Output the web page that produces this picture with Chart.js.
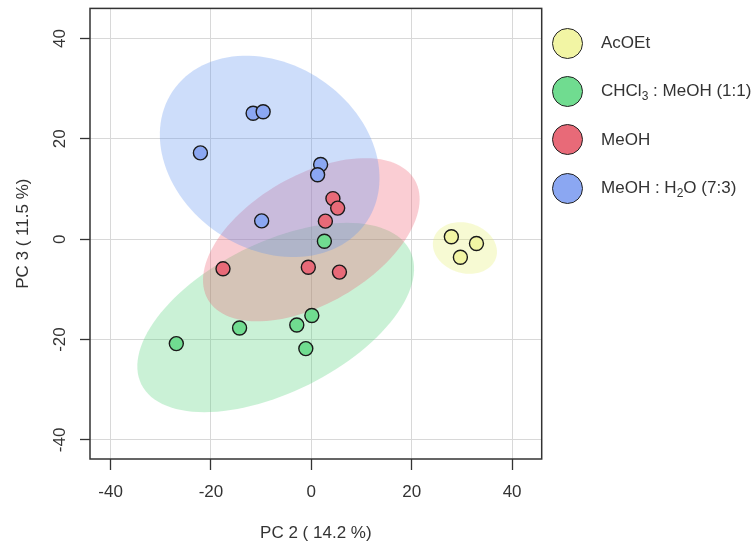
<!DOCTYPE html>
<html>
<head>
<meta charset="utf-8">
<script src="https://cdn.jsdelivr.net/npm/chart.js@4"></script>
<style>
  html, body { margin: 0; padding: 0; background: #fff; }
  #wrap { position: relative; width: 754px; height: 544px; }
  #legend { position: absolute; left: 552px; top: 19px; font-family: "Liberation Sans", Arial, sans-serif; font-size: 17px; color: #333; white-space: nowrap; }
  .item { height: 48.3px; display: flex; align-items: center; }
  .dot { width: 29px; height: 29px; border-radius: 50%; border: 1.5px solid #222; margin-right: 18px; flex: none; }
  .item sub { font-size: 12px; vertical-align: -4px; line-height: 0; }
</style>
</head>
<body>
<div id="wrap">
  <canvas id="pca" width="754" height="544"></canvas>
  <div id="legend"></div>
</div>
<script>
// groups
const groups = ["AcOEt", "CHCl₃ : MeOH (1:1)", "MeOH", "MeOH : H₂O (7:3)"];
const pointColors = ["#f2f5a4", "#70dc90", "#e86a78", "#8ba7f2"];
const fillColors = ["rgba(228,240,110,0.3)", "rgba(80,210,120,0.3)", "rgba(240,90,110,0.3)", "rgba(100,150,240,0.32)"];

// scores, PC2 / PC3
const acoetX = [27.9, 32.9, 29.7];
const acoetY = [0.5, -0.85, -3.6];
const chclX = [2.6, 0.1, -2.9, -14.3, -26.9, -1.1];
const chclY = [-0.4, -15.2, -17.1, -17.7, -20.8, -21.8];
const meohX = [4.3, 5.25, 2.8, -17.6, -0.6, 5.6];
const meohY = [8.1, 6.2, 3.6, -5.9, -5.6, -6.55];
const waterX = [-11.6, -9.6, -22.1, 1.85, 1.25, -9.9];
const waterY = [25.1, 25.4, 17.2, 14.9, 12.85, 3.65];

// confidence ellipses (data units), same order as groups
const ellCx = [30.6, -7.1, 0.0, -8.3];
const ellCy = [-1.75, -15.6, -0.1, 16.5];
const ellRx = [6.5, 29.9, 23.8, 23.3];
const ellRy = [5.0, 14.9, 12.8, 18.4];
const ellAngle = [-17, 26.5, 30, -34];

const xTicks = [-40, -20, 0, 20, 40];
const yTicks = [-40, -20, 0, 20, 40];

function pts(xs, ys) {
  return xs.map((x, i) => ({ x: x, y: ys[i] }));
}
const series = [pts(acoetX, acoetY), pts(chclX, chclY), pts(meohX, meohY), pts(waterX, waterY)];

const ellipsePlugin = {
  id: "ellipses",
  beforeDatasetsDraw(chart) {
    const { ctx, chartArea, scales } = chart;
    ctx.save();
    ctx.beginPath();
    ctx.rect(chartArea.left, chartArea.top, chartArea.right - chartArea.left, chartArea.bottom - chartArea.top);
    ctx.clip();
    for (let g = 0; g < groups.length; g++) {
      const th = ellAngle[g] * Math.PI / 180;
      ctx.beginPath();
      for (let k = 0; k <= 120; k++) {
        const t = k / 120 * 2 * Math.PI;
        const dx = ellRx[g] * Math.cos(t), dy = ellRy[g] * Math.sin(t);
        const vx = ellCx[g] + dx * Math.cos(th) - dy * Math.sin(th);
        const vy = ellCy[g] + dx * Math.sin(th) + dy * Math.cos(th);
        const px = scales.x.getPixelForValue(vx), py = scales.y.getPixelForValue(vy);
        if (k === 0) ctx.moveTo(px, py); else ctx.lineTo(px, py);
      }
      ctx.closePath();
      ctx.fillStyle = fillColors[g];
      ctx.fill();
    }
    ctx.restore();
  },
  afterDraw(chart) {
    const { ctx, chartArea } = chart;
    ctx.save();
    ctx.strokeStyle = "#333";
    ctx.lineWidth = 1.5;
    ctx.strokeRect(chartArea.left, chartArea.top, chartArea.right - chartArea.left, chartArea.bottom - chartArea.top);
    ctx.restore();
  }
};

Chart.defaults.font.family = "'Liberation Sans', Arial, sans-serif";
Chart.defaults.font.size = 17;
Chart.defaults.color = "#333";

const chart = new Chart("pca", {
  type: "scatter",
  data: {
    datasets: groups.map((g, i) => ({
      label: g,
      data: series[i],
      backgroundColor: pointColors[i],
      borderColor: "#1a1a1a",
      borderWidth: 1.4,
      pointRadius: 7,
      pointHoverRadius: 7
    }))
  },
  options: {
    responsive: false,
    animation: false,
    layout: { padding: { top: 7, right: 212.3, left: 0, bottom: 0 } },
    plugins: { legend: { display: false }, tooltip: { enabled: false } },
    scales: {
      x: {
        type: "linear",
        min: -44.1,
        max: 45.9,
        afterFit(scale) { scale.height = 85; scale.paddingLeft = 0; scale.paddingRight = 0; },
        afterBuildTicks(scale) { scale.ticks = xTicks.map(v => ({ value: v })); },
        ticks: { padding: 12, color: "#333" },
        grid: { color: "#d8d8d8", lineWidth: 1, tickColor: "#333", tickLength: 11, tickWidth: 1.3 },
        border: { display: false },
        title: { display: true, text: "PC 2 ( 14.2 %)", padding: { top: 0, bottom: 0 }, color: "#333" }
      },
      y: {
        type: "linear",
        min: -43.8,
        max: 46.0,
        afterFit(scale) { scale.width = 90; scale.paddingTop = 0; scale.paddingBottom = 0; },
        afterBuildTicks(scale) { scale.ticks = yTicks.map(v => ({ value: v })); },
        ticks: { padding: 7, minRotation: 90, maxRotation: 90, crossAlign: "center", color: "#333" },
        grid: { color: "#d8d8d8", lineWidth: 1, tickColor: "#333", tickLength: 10, tickWidth: 1.3 },
        border: { display: false },
        title: { display: true, text: "PC 3 ( 11.5 %)", padding: { top: 13, bottom: 0 }, color: "#333" }
      }
    }
  },
  plugins: [ellipsePlugin]
});

// html legend built from the datasets, subscript digits shown as <sub>
const subDigits = "₀₁₂₃₄₅₆₇₈₉";
const legendEl = document.getElementById("legend");
chart.data.datasets.forEach(ds => {
  const row = document.createElement("div");
  row.className = "item";
  const dot = document.createElement("div");
  dot.className = "dot";
  dot.style.background = ds.backgroundColor;
  const txt = document.createElement("span");
  for (const ch of ds.label) {
    const d = subDigits.indexOf(ch);
    if (d >= 0) {
      const s = document.createElement("sub");
      s.textContent = String(d);
      txt.appendChild(s);
    } else {
      txt.appendChild(document.createTextNode(ch));
    }
  }
  row.appendChild(dot);
  row.appendChild(txt);
  legendEl.appendChild(row);
});
</script>
</body>
</html>
